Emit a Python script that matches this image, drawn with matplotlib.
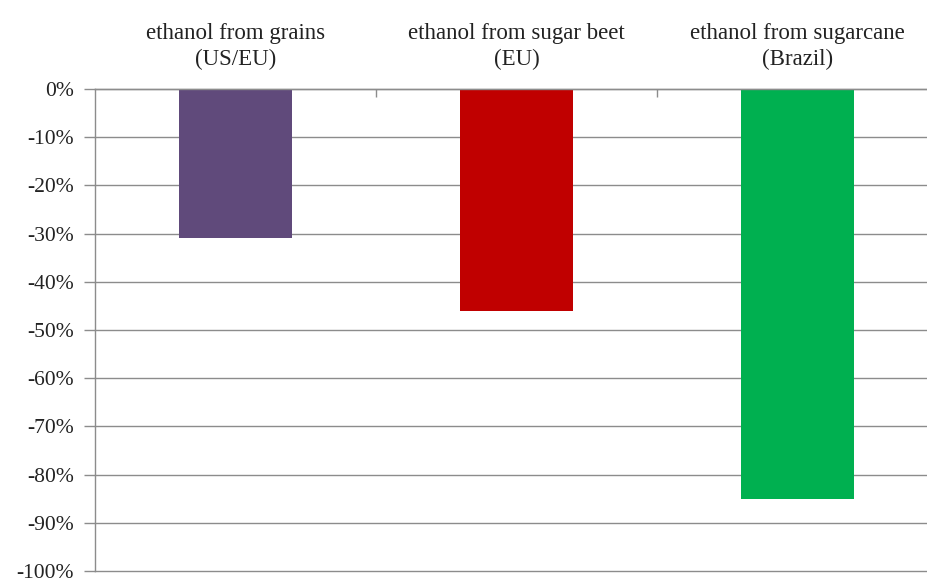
import matplotlib
matplotlib.use("Agg")
import matplotlib.pyplot as plt
from matplotlib.ticker import FixedLocator

categories = ["ethanol from grains\n(US/EU)", "ethanol from sugar beet\n(EU)", "ethanol from sugarcane\n(Brazil)"]
values = [-31, -46, -85]
colors = ["#604A7B", "#C00000", "#00B050"]
yticks = list(range(0, -101, -10))
ytick_labels = [f"{v}%" for v in yticks]

plt.rcParams["font.family"] = ["Liberation Serif", "DejaVu Serif"]

fig = plt.figure(figsize=(9.27, 5.83), dpi=100)
W, H = 927, 583
left, right = 95, 938
top, bottom = 89, 571
ax = fig.add_axes([left / W, 1 - bottom / H, (right - left) / W, (bottom - top) / H])

x = list(range(len(categories)))
ax.bar(x, values, width=0.40, color=colors, zorder=3)

ax.set_xlim(-0.5, len(categories) - 0.5)
ax.set_ylim(-100, 0)
ax.set_yticks(yticks)
ax.set_yticklabels(ytick_labels, fontsize=15.5, color="#222222")
ax.yaxis.grid(True, color="#8c8c8c", linewidth=1.0, zorder=0)
for gl in ax.get_ygridlines():
    gl.set_clip_on(False)

# category labels above the plot
for xi, lab in zip(x, categories):
    ax.text(xi, 1.04, lab, transform=ax.get_xaxis_transform(), ha="center", va="bottom",
            fontsize=16.5, color="#222222", linespacing=1.3)

ax.xaxis.set_ticks_position("top")
ax.xaxis.set_major_locator(FixedLocator([0.5, 1.5]))
ax.set_xticklabels([])
ax.tick_params(axis="x", direction="in", length=6, color="#8c8c8c", width=1.0)
ax.tick_params(axis="y", direction="out", length=8, color="#8c8c8c", width=1.0, pad=7)

for s in ["right", "bottom"]:
    ax.spines[s].set_visible(False)
ax.spines["left"].set_color("#8c8c8c")
ax.spines["top"].set_color("#8c8c8c")
ax.spines["left"].set_linewidth(1.0)
ax.spines["top"].set_linewidth(1.0)
ax.spines["top"].set_zorder(4)

fig.savefig("out.png", dpi=100)
